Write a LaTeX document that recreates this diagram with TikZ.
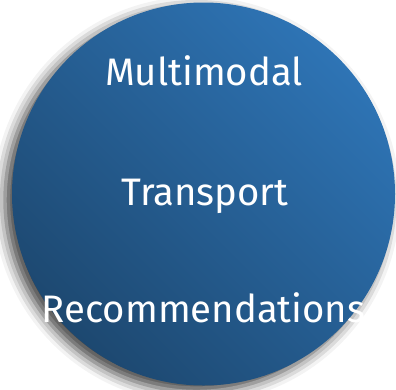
\documentclass[tikz,border=0pt]{standalone}
\usepackage{fontspec}
\setmainfont{Fira Sans}
\usetikzlibrary{shadows.blur}
\definecolor{discdark}{HTML}{1D4870}
\definecolor{disclight}{HTML}{2E74B5}
\tikzset{
  bubble/.style={circle,inner sep=0pt,minimum size=3.83cm,
    top color=disclight,bottom color=discdark,shading angle=-45,
    blur shadow={shadow xshift=-0.07cm,shadow yshift=-0.06cm,shadow blur radius=0.12cm,shadow opacity=75}},
  word/.style={white,anchor=base,inner sep=0pt,font=\fontsize{10.9}{13}\selectfont}
}
\begin{document}
\begin{tikzpicture}
    \useasboundingbox (0,0) rectangle (3.96,3.89);
    \node[bubble] (disc) at (2.035,1.95) {};

    \node[word] (multimodal) at (2.04,3.04) {Multimodal};
    \node[word] (transport) at (2.05,1.84) {Transport};
    \node[word] (recs) at (2.035,0.67) {Recommendations};
\end{tikzpicture}
\end{document}
